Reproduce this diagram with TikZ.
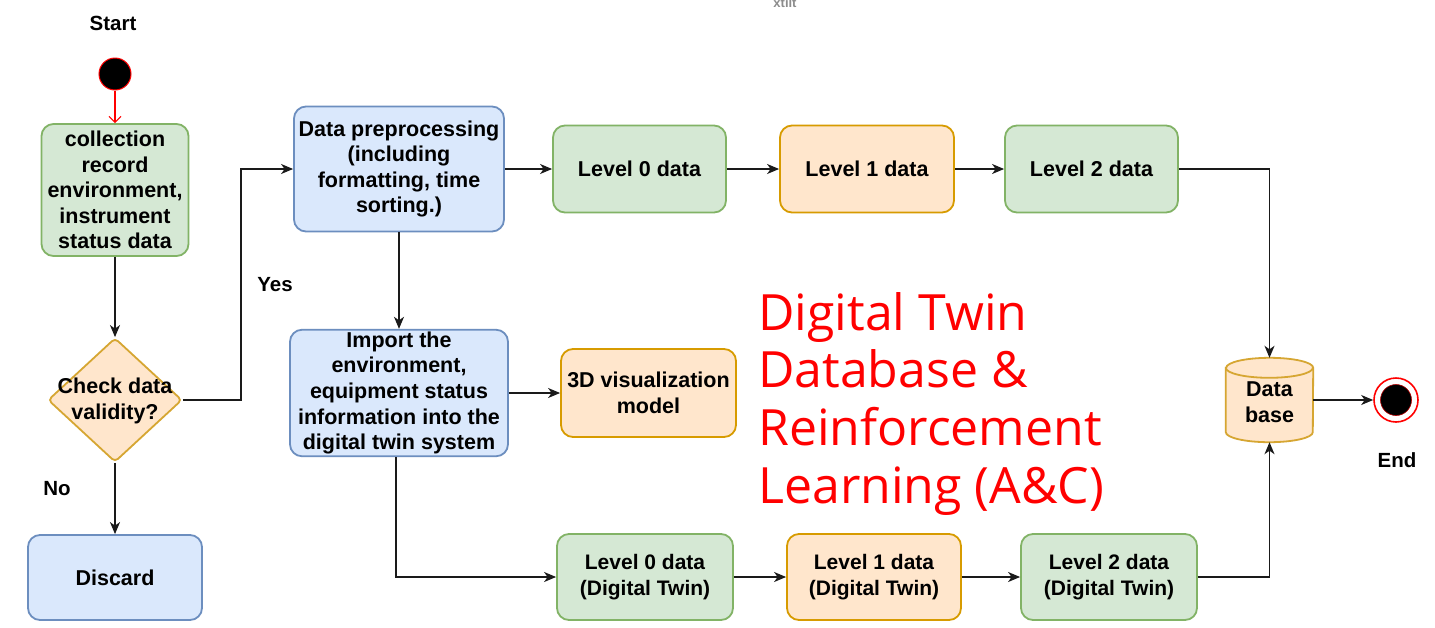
\documentclass[tikz,border=0pt]{standalone}
\usepackage{fontspec}
\setmainfont{Liberation Sans}
\newfontfamily\notefont{Open Sans}
\usetikzlibrary{arrows.meta,shapes.geometric}

\definecolor{gfill}{HTML}{D5E8D4}
\definecolor{gdraw}{HTML}{82B366}
\definecolor{bfill}{HTML}{DAE8FC}
\definecolor{bdraw}{HTML}{6C8EBF}
\definecolor{ofill}{HTML}{FFE6CC}
\definecolor{odraw}{HTML}{D79B00}
\definecolor{ydraw}{HTML}{D6A632}
\definecolor{notered}{HTML}{FF0000}
\definecolor{wire}{HTML}{1A1A1A}

\tikzset{
  boxbase/.style={rounded corners=12, line width=1.8, align=center, inner sep=2,
    font=\fontsize{21.5}{25.6}\selectfont\bfseries},
  greenbox/.style={boxbase, fill=gfill, draw=gdraw},
  bluebox/.style={boxbase, fill=bfill, draw=bdraw},
  orangebox/.style={boxbase, fill=ofill, draw=odraw},
  twinbox/.style={font=\fontsize{21}{26}\selectfont\bfseries},
  arr/.style={draw=wire, line width=1.4, -{Stealth[length=12pt,width=10pt,inset=3.5pt]}},
  lbl/.style={font=\fontsize{20.5}{24}\selectfont\bfseries, inner sep=0},
}

\begin{document}
\begin{tikzpicture}[x=1pt,y=-1pt]
\useasboundingbox[fill=white] (0,0) rectangle (1435,627);

% small grey caption fragment at the top edge
\node[text=black!45, font=\fontsize{13}{14}\selectfont\bfseries, inner sep=0] (frag) at (785,3) {xtilt};

% start and end markers
\node[lbl] (startlbl) at (113,23) {Start};
\node[circle, fill=black, draw=red, line width=1, minimum size=32, inner sep=0] (start) at (115,74) {};
\node[circle, fill=white, draw=red, line width=1.6, minimum size=44, inner sep=0] (finish) at (1396,400) {};
\node[circle, fill=black, draw=red!70!black, line width=0.6, minimum size=31, inner sep=0] (finishdot) at (1396,400) {};
\node[lbl] (endlbl) at (1397,460) {End};

% left column
\node[greenbox, minimum width=147, minimum height=132] (coll) at (115,190)
  {collection\\record\\environment,\\instrument\\status data};
\node[diamond, fill=ofill, draw=ydraw, line width=1.8, minimum width=134, minimum height=124, inner sep=0, rounded corners=4] (check) at (115,400) {};
\node[font=\fontsize{21.5}{25.6}\selectfont\bfseries, align=center, inner sep=0] (checktxt) at (115,401) {Check data\\validity?};
\node[bluebox, minimum width=174, minimum height=85] (discard) at (115,577.5) {Discard};
\node[lbl] (yes) at (275,285) {Yes};
\node[lbl] (no) at (57,489) {No};

% upper branch
\node[bluebox, minimum width=210, minimum height=125] (pre) at (399,169)
  {Data preprocessing\\(including\\formatting, time\\sorting.)};
\node[greenbox, minimum width=173, minimum height=87] (lz) at (639.5,169) {Level 0 data};
\node[orangebox, minimum width=174, minimum height=87] (lo) at (867,169) {Level 1 data};
\node[greenbox, minimum width=173, minimum height=87] (lt) at (1091.5,169) {Level 2 data};

% digital twin branch
\node[bluebox, minimum width=218, minimum height=126] (imp) at (399,393)
  {Import the\\environment,\\equipment status\\information into the\\digital twin system};
\node[orangebox, minimum width=175, minimum height=88] (vis) at (648.5,393) {3D visualization\\model};
\node[greenbox, twinbox, minimum width=176, minimum height=86] (dz) at (645,577) {Level 0 data\\(Digital Twin)};
\node[orangebox, twinbox, minimum width=174, minimum height=86] (do) at (874,577) {Level 1 data\\(Digital Twin)};
\node[greenbox, twinbox, minimum width=176, minimum height=86] (dt) at (1109,577) {Level 2 data\\(Digital Twin)};

% database cylinder (y axis points down: angle 90 is the lower side,
% and a canvas yshift of -10 moves a point 10 units down the page)
\node[minimum width=87, minimum height=84, inner sep=0] (db) at (1269.5,400) {};
\filldraw[fill=ofill, draw=ydraw, line width=1.8]
  ([yshift=-10]db.north west) -- ([yshift=10]db.south west)
  arc[start angle=180, end angle=0, x radius=43.5, y radius=10]
  -- ([yshift=-10]db.north east)
  arc[start angle=0, end angle=-180, x radius=43.5, y radius=10] -- cycle;
\draw[draw=ydraw, line width=1.8] ([yshift=-10]db.north west)
  arc[start angle=180, end angle=0, x radius=43.5, y radius=10];
\node[font=\fontsize{21.5}{25.6}\selectfont\bfseries, align=center, inner sep=0] (dbtxt) at (1269.5,402) {Data\\base};

% remark text
\node[text=notered, anchor=north west, align=left, inner sep=0,
  font=\notefont\fontsize{50}{57.7}\selectfont] (remark) at (758,292)
  {Digital Twin\\Database \&\\Reinforcement\\Learning (A\&C)};

% connectors
\draw[draw=red, line width=1.1, -{Straight Barb[length=6pt,width=12pt]}] (start) -- (coll.north);
\draw[arr] (coll.south) -- (check.north);
\draw[arr] (check.east) -- ++(58,0) |- (pre.west);
\draw[arr] (check.south) -- (discard.north);
\draw[arr] (pre.east) -- (lz.west);
\draw[arr] (lz.east) -- (lo.west);
\draw[arr] (lo.east) -- (lt.west);
\draw[arr] (lt.east) -| (db.north);
\draw[arr] (pre.south) -- (imp.north);
\draw[arr] (imp.east) -- (vis.west);
\draw[arr] ([xshift=-3]imp.south) |- (dz.west);
\draw[arr] (dz.east) -- (do.west);
\draw[arr] (do.east) -- (dt.west);
\draw[arr] (dt.east) -| (db.south);
\draw[arr] (db.east) -- (finish.west);
\end{tikzpicture}
\end{document}
